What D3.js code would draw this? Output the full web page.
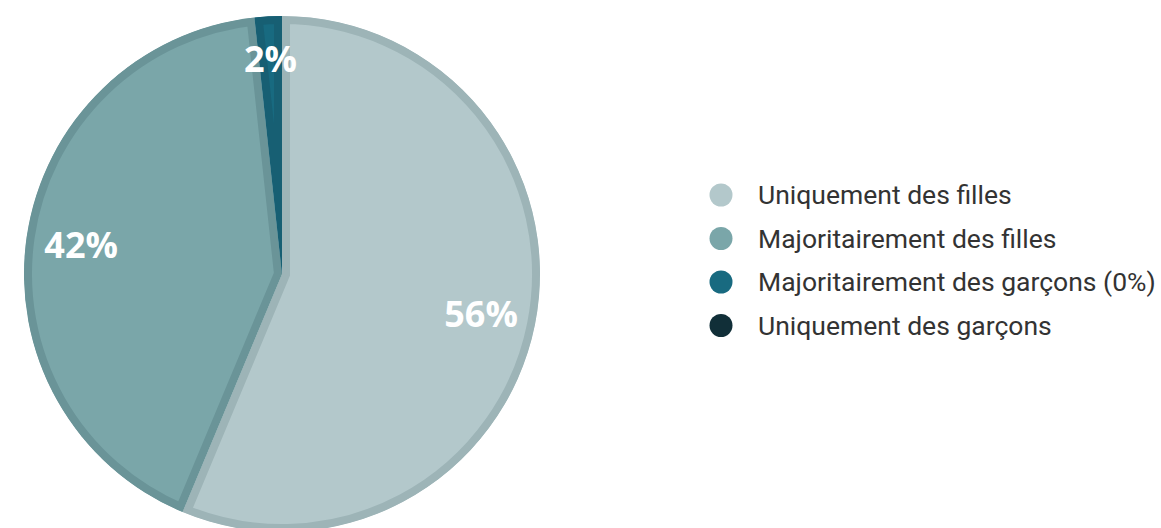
<!DOCTYPE html>
<html><head><meta charset="utf-8">
<script src="https://cdn.jsdelivr.net/npm/d3@7"></script>
<style>
html,body{margin:0;padding:0;background:#fff;}
svg{display:block;}
</style></head>
<body>
<svg id="chart" width="1161" height="528"></svg>
<script>
const categories = ["Uniquement des filles", "Majoritairement des filles", "Majoritairement des garçons (0%)", "Uniquement des garçons"];
const values = [56.3, 42.0, 1.7, 0];
const labels = ["56%", "42%", "2%", ""];
const fills = ["#b3c8cb", "#7aa6a9", "#186a80", "#112f38"];
const borders = ["#9db4b7", "#6a9498", "#175f73", "#0c252c"];

const svg = d3.select("#chart");
const cx = 282, cy = 274, R = 258;
const data = categories.map((c, i) => ({name: c, value: values[i], label: labels[i], fill: fills[i], border: borders[i]}));

const pie = d3.pie().value(d => d.value).sort(null);
const arcs = pie(data).filter(a => a.data.value > 0);
const arc = d3.arc().innerRadius(0).outerRadius(R);

const g = svg.append("g").attr("transform", `translate(${cx},${cy})`);
const defs = svg.append("defs");
arcs.forEach((a, i) => {
  defs.append("clipPath").attr("id", "clip" + i).append("path").attr("d", arc(a));
});
g.selectAll("path.slice").data(arcs).join("path")
  .attr("class", "slice")
  .attr("d", arc)
  .attr("fill", d => d.data.fill)
  .attr("stroke", d => d.data.border)
  .attr("stroke-width", 16)
  .attr("stroke-linejoin", "miter")
  .attr("clip-path", (d, i) => `url(#clip${i})`);

g.selectAll("text.lbl").data(arcs).join("text")
  .attr("class", "lbl")
  .attr("transform", d => {
    const m = (d.startAngle + d.endAngle) / 2;
    const r = (d.endAngle - d.startAngle) < 0.3 ? 216 : 203;
    return `translate(${Math.sin(m) * r},${-Math.cos(m) * r})`;
  })
  .attr("text-anchor", "middle")
  .attr("dominant-baseline", "central")
  .attr("fill", "#ffffff")
  .attr("font-family", "'Open Sans', sans-serif")
  .attr("font-weight", 700)
  .attr("font-size", 36)
  .text(d => d.data.label);

const legend = svg.append("g").attr("transform", "translate(721,195)");
const items = legend.selectAll("g").data(data).join("g")
  .attr("transform", (d, i) => `translate(0,${i * 43.5})`);
items.append("circle").attr("r", 11.5).attr("fill", d => d.fill);
items.append("text")
  .attr("x", 37).attr("dy", "0.35em")
  .attr("font-family", "Roboto, sans-serif")
  .attr("font-size", 26.5)
  .attr("fill", "#333333")
  .text(d => d.name);
</script>
</body></html>
